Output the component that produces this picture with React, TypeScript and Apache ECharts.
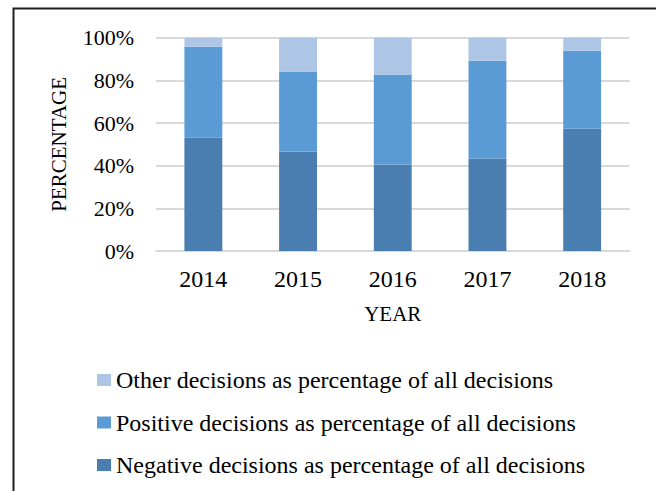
import React, { useEffect, useRef } from "react";
import * as echarts from "echarts";

const years = ["2014", "2015", "2016", "2017", "2018"];
const negativeShare = [53.1, 46.6, 40.6, 43.3, 57.3];
const positiveShare = [42.7, 37.5, 42.2, 45.9, 36.6];
const otherShare = [4.2, 15.9, 17.2, 10.8, 6.1];
const yTicks = { min: 0, max: 100, interval: 20 };

const NAME_OTHER = "Other decisions as percentage of all decisions";
const NAME_POS = "Positive decisions as percentage of all decisions";
const NAME_NEG = "Negative decisions as percentage of all decisions";

const FONT = "Liberation Serif";

export default function App() {
  const ref = useRef<HTMLDivElement>(null);
  useEffect(() => {
    if (!ref.current) return;
    const chart = echarts.init(ref.current, undefined, { renderer: "svg" });
    chart.setOption({
      animation: false,
      backgroundColor: "#ffffff",
      textStyle: { fontFamily: FONT, color: "#000" },
      grid: { left: 156, right: 26.5, top: 37.7, bottom: 240, containLabel: false },
      graphic: [
        {
          type: "rect",
          shape: { x: 13.5, y: 8.5, width: 700, height: 600 },
          style: { fill: "none", stroke: "#1f1f1f", lineWidth: 2 },
          silent: true,
        },
      ],
      legend: {
        orient: "vertical",
        left: 97,
        top: 368,
        padding: 0,
        itemWidth: 14,
        itemHeight: 12,
        itemGap: 18.5,
        itemTextGap: 3,
        icon: "rect",
        data: [NAME_OTHER, NAME_POS, NAME_NEG],
        textStyle: { fontFamily: FONT, fontSize: 24, color: "#000" },
      },
      xAxis: {
        type: "category",
        data: years,
        name: "YEAR",
        nameLocation: "middle",
        nameGap: 52,
        nameTextStyle: { fontFamily: FONT, fontSize: 21, color: "#000" },
        axisTick: { show: false },
        axisLine: { lineStyle: { color: "#d9d9d9", width: 2 } },
        axisLabel: { fontFamily: FONT, fontSize: 24, color: "#000", margin: 16 },
      },
      yAxis: {
        type: "value",
        min: yTicks.min,
        max: yTicks.max,
        interval: yTicks.interval,
        name: "PERCENTAGE",
        nameLocation: "middle",
        nameGap: 87,
        nameRotate: 90,
        nameTextStyle: { fontFamily: FONT, fontSize: 21, color: "#000" },
        axisLine: { show: false },
        axisTick: { show: false },
        splitLine: { lineStyle: { color: "#d9d9d9", width: 2 } },
        axisLabel: {
          fontFamily: FONT,
          fontSize: 22,
          color: "#000",
          margin: 22,
          formatter: "{value}%",
        },
      },
      series: [
        {
          name: NAME_NEG,
          type: "bar",
          stack: "total",
          barWidth: "40%",
          data: negativeShare,
          itemStyle: { color: "#4a7eb0" },
        },
        {
          name: NAME_POS,
          type: "bar",
          stack: "total",
          barWidth: "40%",
          data: positiveShare,
          itemStyle: { color: "#5b9bd5" },
        },
        {
          name: NAME_OTHER,
          type: "bar",
          stack: "total",
          barWidth: "40%",
          data: otherShare,
          itemStyle: { color: "#adc6e6" },
        },
      ],
    });
    return () => chart.dispose();
  }, []);
  return (
    <div
      ref={ref}
      style={{ position: "absolute", left: 0, top: 0, width: 656, height: 491 }}
    />
  );
}
